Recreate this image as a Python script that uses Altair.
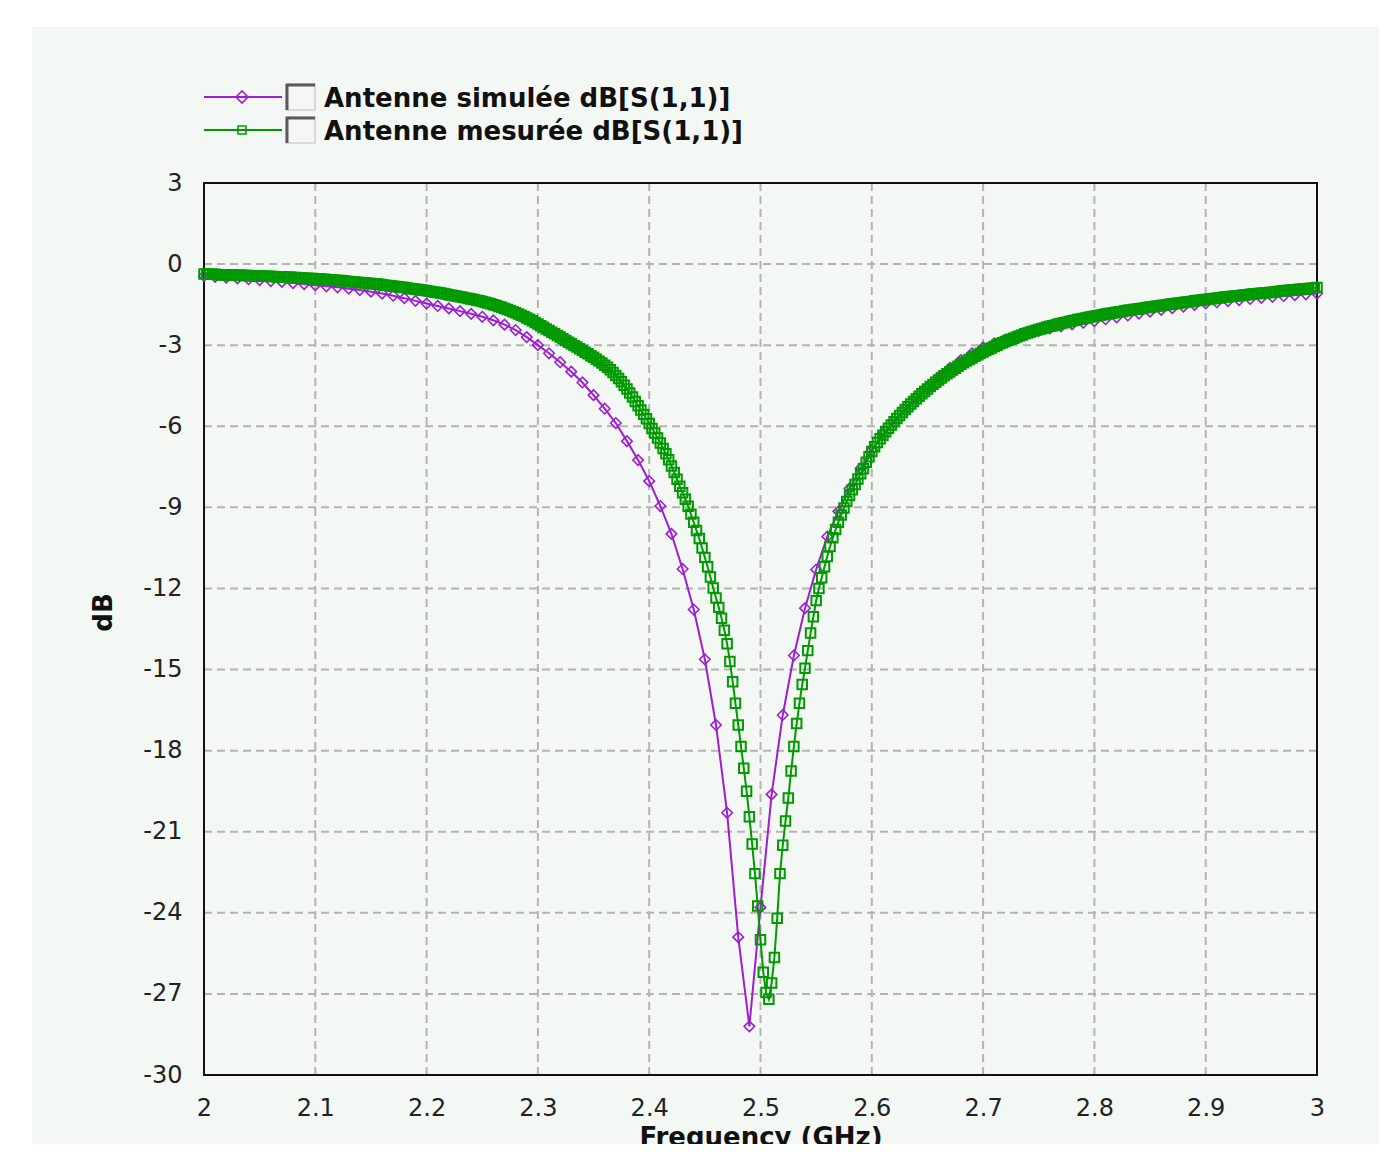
import altair as alt
import pandas as pd

PURPLE = "#9b1fd0"
GREEN = "#009a00"
BG = "#f4f8f5"
GRID = "#b3b3b3"
FONT = "DejaVu Sans"

# ---- axis definitions ----
x_domain = [2.0, 3.0]
y_domain = [-30, 3]
x_ticks = [2.0, 2.1, 2.2, 2.3, 2.4, 2.5, 2.6, 2.7, 2.8, 2.9, 3.0]
y_ticks = [3, 0, -3, -6, -9, -12, -15, -18, -21, -24, -27, -30]

legend_labels = ["Antenne simulée dB[S(1,1)]", "Antenne mesurée dB[S(1,1)]"]

# ---- simulated S11 (dB), sweep 2.00 -> 3.00 GHz, step 0.01 GHz ----
sim_start, sim_step = 2.0, 0.01
sim_db = [
    -0.44, -0.47, -0.50, -0.53, -0.56, -0.59, -0.63, -0.66, -0.70, -0.74,
    -0.78, -0.82, -0.86, -0.91, -0.96, -1.02, -1.09, -1.17, -1.26, -1.36,
    -1.46, -1.55, -1.64, -1.74, -1.84, -1.95, -2.08, -2.24, -2.44, -2.70,
    -3.00, -3.30, -3.63, -3.98, -4.38, -4.85, -5.35, -5.88, -6.55, -7.25,
    -8.03, -8.95, -9.98, -11.28, -12.78, -14.62, -17.05, -20.30, -24.90, -28.20,
    -23.80, -19.62, -16.68, -14.48, -12.73, -11.30, -10.08, -9.15, -8.30, -7.56,
    -6.88, -6.29, -5.83, -5.38, -4.97, -4.56, -4.18, -3.85, -3.55, -3.30,
    -3.08, -2.93, -2.80, -2.68, -2.57, -2.47, -2.38, -2.30, -2.23, -2.17,
    -2.11, -2.04, -1.97, -1.90, -1.83, -1.76, -1.69, -1.63, -1.57, -1.51,
    -1.45, -1.41, -1.37, -1.33, -1.29, -1.25, -1.21, -1.18, -1.15, -1.12,
    -1.09,
]

# ---- measured S11 (dB), sweep 2.00 -> 3.00 GHz, step 0.0025 GHz ----
meas_start, meas_step = 2.0, 0.0025
meas_db_2000_2100 = [
    -0.37, -0.37, -0.38, -0.38, -0.38, -0.39, -0.39, -0.39, -0.40, -0.40,
    -0.40, -0.41, -0.41, -0.41, -0.42, -0.42, -0.42, -0.43, -0.43, -0.44,
    -0.44, -0.44, -0.45, -0.45, -0.46, -0.46, -0.47, -0.47, -0.48, -0.48,
    -0.49, -0.49, -0.50, -0.50, -0.51, -0.51, -0.52, -0.52, -0.53, -0.53,
    -0.54,
]
meas_db_2100_2300 = [
    -0.55, -0.55, -0.56, -0.57, -0.58, -0.59, -0.60, -0.61, -0.61, -0.62,
    -0.63, -0.64, -0.65, -0.66, -0.67, -0.68, -0.69, -0.70, -0.71, -0.72,
    -0.73, -0.74, -0.75, -0.76, -0.78, -0.79, -0.80, -0.82, -0.83, -0.84,
    -0.86, -0.87, -0.88, -0.90, -0.91, -0.93, -0.94, -0.96, -0.97, -0.99,
    -1.00, -1.02, -1.04, -1.05, -1.07, -1.09, -1.11, -1.13, -1.15, -1.17,
    -1.19, -1.21, -1.23, -1.25, -1.27, -1.29, -1.31, -1.34, -1.36, -1.38,
    -1.41, -1.44, -1.47, -1.50, -1.53, -1.57, -1.60, -1.64, -1.68, -1.72,
    -1.76, -1.80, -1.85, -1.89, -1.94, -1.99, -2.04, -2.10, -2.16, -2.22,
]
meas_db_2300_2400 = [
    -2.28, -2.34, -2.40, -2.46, -2.52, -2.58, -2.64, -2.70, -2.76, -2.83,
    -2.89, -2.95, -3.01, -3.07, -3.13, -3.20, -3.26, -3.32, -3.39, -3.45,
    -3.52, -3.59, -3.66, -3.74, -3.82, -3.91, -4.01, -4.12, -4.23, -4.35,
    -4.48, -4.62, -4.77, -4.92, -5.08, -5.24, -5.40, -5.56, -5.72, -5.90,
]
meas_db_2400_2500 = [
    -6.08, -6.25, -6.43, -6.62, -6.82, -7.02, -7.24, -7.47, -7.71, -7.96,
    -8.22, -8.46, -8.70, -8.96, -9.25, -9.55, -9.86, -10.15, -10.50, -10.85,
    -11.20, -11.58, -11.98, -12.35, -12.70, -13.10, -13.55, -14.05, -14.70, -15.45,
    -16.25, -17.05, -17.85, -18.65, -19.50, -20.45, -21.45, -22.55, -23.75, -25.00,
]
meas_db_2500_2600 = [
    -26.20, -26.95, -27.20, -26.60, -25.65, -24.20, -22.55, -21.50, -20.60, -19.75,
    -18.75, -17.85, -17.00, -16.25, -15.55, -14.95, -14.30, -13.65, -13.05, -12.45,
    -12.00, -11.60, -11.20, -10.82, -10.45, -10.12, -9.82, -9.55, -9.28, -9.02,
    -8.78, -8.56, -8.35, -8.15, -7.95, -7.76, -7.57, -7.33, -7.13, -6.93,
]
meas_db_2600_2700 = [
    -6.76, -6.60, -6.46, -6.33, -6.20, -6.07, -5.95, -5.83, -5.71, -5.60,
    -5.49, -5.38, -5.28, -5.18, -5.08, -4.98, -4.89, -4.80, -4.71, -4.62,
    -4.53, -4.45, -4.37, -4.29, -4.21, -4.13, -4.06, -3.99, -3.92, -3.85,
    -3.78, -3.71, -3.65, -3.59, -3.53, -3.47, -3.41, -3.36, -3.30, -3.25,
]
meas_db_2700_3000 = [
    -3.20, -3.15, -3.10, -3.05, -3.00, -2.95, -2.91, -2.86, -2.82, -2.78,
    -2.74, -2.70, -2.66, -2.62, -2.58, -2.55, -2.51, -2.48, -2.45, -2.42,
    -2.39, -2.36, -2.33, -2.30, -2.28, -2.25, -2.22, -2.20, -2.17, -2.15,
    -2.12, -2.10, -2.08, -2.05, -2.03, -2.01, -1.99, -1.97, -1.95, -1.93,
    -1.91, -1.89, -1.87, -1.85, -1.83, -1.82, -1.80, -1.78, -1.76, -1.75,
    -1.73, -1.71, -1.70, -1.68, -1.67, -1.65, -1.64, -1.62, -1.61, -1.59,
    -1.58, -1.56, -1.55, -1.53, -1.52, -1.50, -1.49, -1.47, -1.46, -1.45,
    -1.43, -1.42, -1.40, -1.39, -1.38, -1.36, -1.35, -1.34, -1.32, -1.31,
    -1.30, -1.28, -1.27, -1.26, -1.25, -1.24, -1.22, -1.21, -1.20, -1.19,
    -1.18, -1.17, -1.15, -1.14, -1.13, -1.12, -1.11, -1.10, -1.09, -1.08,
    -1.07, -1.06, -1.05, -1.04, -1.03, -1.01, -1.00, -0.99, -0.98, -0.97,
    -0.96, -0.95, -0.94, -0.93, -0.92, -0.91, -0.90, -0.89, -0.88, -0.87,
]
meas_db = (meas_db_2000_2100 + meas_db_2100_2300 + meas_db_2300_2400
           + meas_db_2400_2500 + meas_db_2500_2600 + meas_db_2600_2700
           + meas_db_2700_3000)

sim_df = pd.DataFrame({
    "f": [round(sim_start + i * sim_step, 4) for i in range(len(sim_db))],
    "db": sim_db,
})
meas_df = pd.DataFrame({
    "f": [round(meas_start + i * meas_step, 5) for i in range(len(meas_db))],
    "db": meas_db,
})
frame_df = pd.DataFrame({"x0": [x_domain[0]], "x1": [x_domain[1]],
                         "y0": [y_domain[0]], "y1": [y_domain[1]]})
xgrid_df = pd.DataFrame({"f": x_ticks})
ygrid_df = pd.DataFrame({"db": y_ticks})
dummy = pd.DataFrame({"k": [0]})

x_scale = alt.Scale(domain=x_domain, nice=False, zero=False)
y_scale = alt.Scale(domain=y_domain, nice=False, zero=False)

x_axis = alt.Axis(
    values=x_ticks, format="~g", grid=False, domain=False, ticks=False, tickSize=0,
    labelFont=FONT, labelFontSize=24, labelColor="#222", labelPadding=21,
    labelBaseline="top", labelFlush=False, labelOverlap=False,
    title="Frequency (GHz)", titleFont=FONT, titleFontWeight="bold",
    titleFontSize=26, titleColor="#111", titleY=70, titleBaseline="alphabetic",
    zindex=1,
)
y_axis = alt.Axis(
    values=y_ticks, grid=False, domain=False, ticks=False, tickSize=0,
    labelExpr="'' + datum.value",
    labelFont=FONT, labelFontSize=24, labelColor="#222", labelPadding=22,
    labelFlush=False, labelOverlap=False,
    title="dB", titleFont=FONT, titleFontWeight="bold", titleFontSize=26,
    titleColor="#111", titleAngle=270, titleX=-93, titleY=429,
    titleBaseline="alphabetic", titleAlign="center",
    zindex=1,
)

X = alt.X("f:Q", scale=x_scale, axis=x_axis)
Y = alt.Y("db:Q", scale=y_scale, axis=y_axis)

# light panel behind the whole figure (the page itself stays white)
panel = alt.Chart(dummy).mark_rect(fill=BG).encode(
    x=alt.value(-172), x2=alt.value(1200), y=alt.value(-156), y2=alt.value(1000))

xgrid = alt.Chart(xgrid_df).mark_rule(color=GRID, strokeWidth=2, strokeDash=[8, 5]).encode(
    x=alt.X("f:Q", scale=x_scale, axis=x_axis))
ygrid = alt.Chart(ygrid_df).mark_rule(color=GRID, strokeWidth=2, strokeDash=[8, 5]).encode(
    y=alt.Y("db:Q", scale=y_scale, axis=y_axis))

frame = alt.Chart(frame_df).mark_rect(filled=False, stroke="#111", strokeWidth=2).encode(
    x=alt.X("x0:Q", scale=x_scale, axis=x_axis), x2="x1:Q",
    y=alt.Y("y0:Q", scale=y_scale, axis=y_axis), y2="y1:Q",
)

sim_line = alt.Chart(sim_df).mark_line(color=PURPLE, strokeWidth=2).encode(x=X, y=Y)
sim_pts = alt.Chart(sim_df).mark_point(
    shape="diamond", filled=False, size=110, strokeWidth=1.6, color=PURPLE, opacity=1
).encode(x=X, y=Y)
meas_line = alt.Chart(meas_df).mark_line(color=GREEN, strokeWidth=2).encode(x=X, y=Y)
meas_pts = alt.Chart(meas_df).mark_point(
    shape="square", filled=False, size=90, strokeWidth=2, color=GREEN, opacity=1
).encode(x=X, y=Y)

# ---- legend (drawn above the plot) ----
legend_layers = []
rows = [(-86, PURPLE, "diamond", 144), (-53, GREEN, "square", 64)]
for (ly, col, shp, sz), lab in zip(rows, legend_labels):
    legend_layers.append(
        alt.Chart(dummy).mark_rule(color=col, strokeWidth=2).encode(
            x=alt.value(0), x2=alt.value(78), y=alt.value(ly)))
    legend_layers.append(
        alt.Chart(dummy).mark_point(shape=shp, filled=False, size=sz, strokeWidth=1.6,
                                    color=col, opacity=1).encode(
            x=alt.value(38), y=alt.value(ly)))
    legend_layers.append(
        alt.Chart(dummy).mark_rect(fill="#f6f6f6", stroke="#cfcfcf", strokeWidth=1.5).encode(
            x=alt.value(82), x2=alt.value(111), y=alt.value(ly - 13), y2=alt.value(ly + 13)))
    legend_layers.append(
        alt.Chart(dummy).mark_rule(color="#5a5a5a", strokeWidth=3).encode(
            x=alt.value(82), x2=alt.value(111), y=alt.value(ly - 12)))
    legend_layers.append(
        alt.Chart(dummy).mark_rule(color="#5a5a5a", strokeWidth=3).encode(
            x=alt.value(83), y=alt.value(ly - 13), y2=alt.value(ly + 13)))
    legend_layers.append(
        alt.Chart(dummy).mark_text(text=lab, align="left", baseline="alphabetic",
                                   font=FONT, fontWeight="bold", fontSize=26,
                                   color="#111").encode(
            x=alt.value(120), y=alt.value(ly + 10)))

chart = alt.layer(
    panel, xgrid, ygrid, frame, sim_line, sim_pts, meas_line, meas_pts, *legend_layers
).properties(
    width=1113, height=892,
    autosize=alt.AutoSizeParams(type="none"),
    padding={"left": 196, "top": 175, "right": 62, "bottom": 69},
    background="white",
).configure_view(stroke="transparent")

chart.save("out.html", embed_options={"renderer": "svg", "actions": False})
